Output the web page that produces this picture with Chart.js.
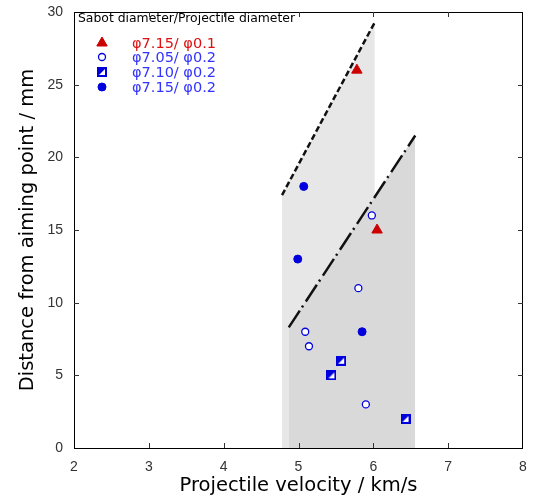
<!DOCTYPE html>
<html><head><meta charset="utf-8">
<script src="https://cdn.jsdelivr.net/npm/chart.js@4/dist/chart.umd.min.js"></script>
<style>html,body{margin:0;padding:0;background:#fff;}#wrap{width:536px;height:499px;}</style>
</head><body><div id="wrap"><canvas id="c" width="536" height="499"></canvas></div>
<script>
// Data (x = projectile velocity km/s, y = distance mm)
const tri715_01 = [{x:5.78,y:26},{x:6.05,y:15}];
const open705_02 = [{x:5.98,y:16},{x:5.80,y:11},{x:5.09,y:8},{x:5.14,y:7},{x:5.90,y:3}];
const half710_02 = [{x:5.57,y:6},{x:5.44,y:5},{x:6.43,y:2}];
const filled715_02 = [{x:5.07,y:18},{x:4.99,y:13},{x:5.85,y:8}];
const upperBand = [{x:4.78,y:17.4},{x:6.02,y:29.3}];
const lowerBand = [{x:4.87,y:8.3},{x:6.56,y:21.5}];
const seriesLabels = ['\u03C67.15/ \u03C60.1','\u03C67.05/ \u03C60.2','\u03C67.10/ \u03C60.2','\u03C67.15/ \u03C60.2'];
const legendTitle = 'Sabot diameter/Projectile diameter';
const xTicks = [2,3,4,5,6,7,8];
const yTicks = [0,5,10,15,20,25,30];

const RED = '#cc0000', BLUE = '#0000dd';
const FONT = '"Liberation Sans", Arial, sans-serif';
const WFONT = '"DejaVu Sans", sans-serif';

// half-filled square marker
const sq = document.createElement('canvas');
sq.width = 10; sq.height = 10;
(function(){
  const g = sq.getContext('2d');
  g.fillStyle = BLUE; g.fillRect(0,0,10,10);
  g.fillStyle = '#ffffff';
  g.beginPath(); g.moveTo(2,8); g.lineTo(8,8); g.lineTo(8,2); g.closePath(); g.fill();
})();

const frame = {
  id: 'frame',
  afterDraw(chart) {
    const {ctx, chartArea: a, scales: {x, y}} = chart;
    ctx.save();
    ctx.strokeStyle = '#000'; ctx.lineWidth = 1;
    ctx.strokeRect(a.left + 0.5, a.top + 0.5, a.right - a.left - 1, a.bottom - a.top);
    ctx.strokeStyle = '#333';
    const L = 5;
    ctx.beginPath();
    xTicks.slice(1, -1).forEach(v => {
      const px = Math.round(x.getPixelForValue(v)) + 0.5;
      ctx.moveTo(px, a.bottom); ctx.lineTo(px, a.bottom - L);
      ctx.moveTo(px, a.top); ctx.lineTo(px, a.top + L);
    });
    yTicks.slice(1, -1).forEach(v => {
      const py = Math.round(y.getPixelForValue(v)) + 0.5;
      ctx.moveTo(a.left, py); ctx.lineTo(a.left + L, py);
      ctx.moveTo(a.right, py); ctx.lineTo(a.right - L, py);
    });
    ctx.stroke();
    // legend
    ctx.fillStyle = '#000';
    ctx.font = '12.4px ' + WFONT;
    ctx.textBaseline = 'middle';
    ctx.textAlign = 'left';
    ctx.fillText(legendTitle, a.left + 4, a.top + 7);
    const rows = [a.top + 31, a.top + 45, a.top + 60, a.top + 75];
    const pts = chart.data.datasets.slice(0, 4);
    ctx.font = '14.5px ' + WFONT;
    pts.forEach((ds, i) => {
      const opts = {pointStyle: ds.pointStyle, radius: ds.pointRadius, rotation: 0, borderWidth: ds.pointBorderWidth};
      ctx.fillStyle = ds.pointBackgroundColor;
      ctx.strokeStyle = ds.pointBorderColor;
      ctx.lineWidth = ds.pointBorderWidth;
      Chart.helpers.drawPoint(ctx, opts, a.left + 28, rows[i]);
      ctx.fillStyle = i === 0 ? '#dd1111' : '#3333ff';
      ctx.fillText(seriesLabels[i], a.left + 58, rows[i] + 1);
    });
    ctx.restore();
  }
};

new Chart(document.getElementById('c'), {
  type: 'scatter',
  data: {
    datasets: [
      {label: seriesLabels[0], data: tri715_01, pointStyle: 'triangle', pointRadius: 6, pointBackgroundColor: RED, pointBorderColor: RED, pointBorderWidth: 1, order: 0},
      {label: seriesLabels[1], data: open705_02, pointStyle: 'circle', pointRadius: 3.5, pointBackgroundColor: '#ffffff', pointBorderColor: BLUE, pointBorderWidth: 1.3, order: 0},
      {label: seriesLabels[2], data: half710_02, pointStyle: sq, pointRadius: 5, pointBackgroundColor: BLUE, pointBorderColor: BLUE, pointBorderWidth: 1, order: 0},
      {label: seriesLabels[3], data: filled715_02, pointStyle: 'circle', pointRadius: 4, pointBackgroundColor: BLUE, pointBorderColor: BLUE, pointBorderWidth: 1, order: 0},
      {type: 'line', label: 'upper', data: upperBand, showLine: true, pointRadius: 0, fill: 'origin',
       backgroundColor: '#e7e7e7', borderColor: '#111', borderWidth: 2.5, borderDash: [6,3], order: 11},
      {type: 'line', label: 'lower', data: lowerBand, showLine: true, pointRadius: 0, fill: 'origin',
       backgroundColor: '#d9d9d9', borderColor: '#111', borderWidth: 2.5, borderDash: [20,4,2,5], order: 10}
    ]
  },
  options: {
    responsive: false,
    animation: false,
    layout: {padding: {top: 12, right: 13, left: 0, bottom: 0}},
    plugins: {legend: {display: false}, tooltip: {enabled: false}},
    scales: {
      x: {
        type: 'linear', min: 2, max: 8,
        afterBuildTicks: s => { s.ticks = xTicks.map(v => ({value: v})); },
        afterFit: s => { s.height = 51; s.paddingLeft = 0; s.paddingRight = 0; },
        grid: {display: false, drawTicks: false},
        border: {display: false},
        ticks: {padding: 11, color: '#333', font: {family: FONT, size: 14}},
        title: {display: true, text: 'Projectile velocity / km/s', color: '#000',
                font: {family: WFONT, size: 19.5, lineHeight: 1}, padding: {bottom: 3, top: 0}}
      },
      y: {
        type: 'linear', min: 0, max: 30,
        afterBuildTicks: s => { s.ticks = yTicks.map(v => ({value: v})); },
        afterFit: s => { s.width = 74; s.paddingTop = 0; s.paddingBottom = 0; },
        grid: {display: false, drawTicks: false},
        border: {display: false},
        ticks: {padding: 11, color: '#333', font: {family: FONT, size: 14}},
        title: {display: true, text: 'Distance from aiming point / mm', color: '#000',
                font: {family: WFONT, size: 19.5, lineHeight: 1}, padding: {top: 18, bottom: 0}}
      }
    }
  },
  plugins: [frame]
});
</script></body></html>
